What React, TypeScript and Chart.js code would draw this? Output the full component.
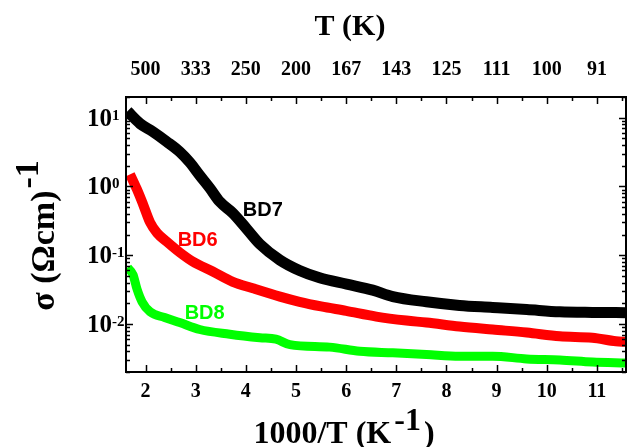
import React, { useEffect, useRef } from "react";
import { Chart, registerables } from "chart.js";

Chart.register(...registerables);

// ---- data (1000/T in K^-1, conductivity in (Ohm cm)^-1) ----
const invT_BD7 = [1.64, 1.89, 2.14, 2.42, 2.68, 2.88, 3.08, 3.28, 3.48, 3.74, 4.02, 4.28, 4.68, 5.07, 5.47, 6.01, 6.53, 6.93, 7.6, 8.26, 8.92, 9.6, 10.26, 10.91, 11.58];
const sigma_BD7 = [12.4, 8.2, 6.3, 4.5, 3.2, 2.25, 1.45, 0.95, 0.6, 0.41, 0.24, 0.145, 0.085, 0.06, 0.047, 0.038, 0.031, 0.025, 0.021, 0.0186, 0.0174, 0.0162, 0.015, 0.0147, 0.0146];

const invT_BD6 = [1.69, 1.83, 1.95, 2.09, 2.23, 2.42, 2.68, 2.94, 3.34, 3.74, 4.14, 4.68, 5.07, 5.5, 6.0, 6.6, 7.2, 7.6, 8.26, 8.92, 9.6, 10.26, 10.91, 11.38, 11.58];
const sigma_BD6 = [1.5, 0.9, 0.55, 0.3, 0.21, 0.158, 0.11, 0.081, 0.058, 0.041, 0.033, 0.025, 0.021, 0.018, 0.0155, 0.0128, 0.0112, 0.0105, 0.0092, 0.0083, 0.0075, 0.0066, 0.0063, 0.0056, 0.0055];

const invT_BD8 = [1.64, 1.75, 1.83, 1.93, 2.09, 2.38, 2.68, 3.08, 3.68, 4.28, 4.6, 4.88, 5.67, 6.27, 6.93, 7.6, 8.26, 8.92, 9.6, 10.26, 10.91, 11.58];
const sigma_BD8 = [0.066, 0.052, 0.032, 0.021, 0.015, 0.0124, 0.0105, 0.0083, 0.0071, 0.0063, 0.006, 0.005, 0.0046, 0.004, 0.0038, 0.0036, 0.0034, 0.0034, 0.0031, 0.003, 0.0028, 0.0027];

// ---- ticks ----
const xTickValues = [2, 3, 4, 5, 6, 7, 8, 9, 10, 11];
const xTickLabels = ["2", "3", "4", "5", "6", "7", "8", "9", "10", "11"];
const topTickLabels = ["500", "333", "250", "200", "167", "143", "125", "111", "100", "91"];
const yTickExponents = [1, 0, -1, -2];

// ---- curve labels ----
const curveNames = ["BD7", "BD6", "BD8"];
const curveColors = ["#000000", "#ff0000", "#00ff00"];
const curveLabelX = [3.94, 2.64, 2.78];
const curveLabelY = [0.366, 0.134, 0.012];

const SERIF = '"Liberation Serif", "Times New Roman", serif';
const SANS = '"Liberation Sans", Arial, sans-serif';

type Part = { t: string; size: number; dy: number; gap?: number };

function drawParts(ctx: CanvasRenderingContext2D, parts: Part[], cx: number, y: number) {
  let total = 0;
  const widths = parts.map((p) => {
    ctx.font = `bold ${p.size}px ${SERIF}`;
    const w = ctx.measureText(p.t).width + (p.gap || 0);
    total += w;
    return w;
  });
  let x = cx - total / 2;
  ctx.textAlign = "left";
  ctx.textBaseline = "alphabetic";
  parts.forEach((p, i) => {
    ctx.font = `bold ${p.size}px ${SERIF}`;
    ctx.fillText(p.t, x + (p.gap || 0) / 2, y + p.dy);
    x += widths[i];
  });
}

const framePlugin = {
  id: "frame",
  afterDraw(chart: any) {
    const ctx: CanvasRenderingContext2D = chart.ctx;
    const { left, right, top, bottom } = chart.chartArea;
    const xs = chart.scales.x;
    const ys = chart.scales.y;
    ctx.save();
    ctx.strokeStyle = "#000";
    ctx.fillStyle = "#000";

    // x ticks (inward, top and bottom)
    ctx.lineWidth = 1.5;
    ctx.beginPath();
    for (let k = Math.ceil(xs.min * 2); k <= Math.floor(xs.max * 2); k++) {
      const v = k / 2;
      const px = Math.round(xs.getPixelForValue(v)) + 0.5;
      const len = k % 2 === 0 ? 7 : 4;
      ctx.moveTo(px, bottom);
      ctx.lineTo(px, bottom - len);
      ctx.moveTo(px, top);
      ctx.lineTo(px, top + len);
    }
    // y ticks (log, inward, left and right)
    const nMin = Math.floor(Math.log10(ys.min));
    const nMax = Math.ceil(Math.log10(ys.max));
    for (let n = nMin; n <= nMax; n++) {
      for (let d = 1; d <= 9; d++) {
        const v = d * Math.pow(10, n);
        if (v < ys.min * 0.999 || v > ys.max * 1.001) continue;
        const py = Math.round(ys.getPixelForValue(v)) + 0.5;
        const len = d === 1 ? 7 : 4;
        ctx.moveTo(left, py);
        ctx.lineTo(left + len, py);
        ctx.moveTo(right, py);
        ctx.lineTo(right - len, py);
      }
    }
    ctx.stroke();

    // frame
    ctx.lineWidth = 2;
    ctx.strokeRect(left, top, right - left, bottom - top);

    // bottom and top tick labels
    ctx.textAlign = "center";
    ctx.textBaseline = "alphabetic";
    ctx.font = `bold 20px ${SERIF}`;
    xTickValues.forEach((v, i) => {
      const px = xs.getPixelForValue(v);
      ctx.fillText(xTickLabels[i], px, bottom + 25);
      ctx.fillText(topTickLabels[i], px, top - 22);
    });

    // y tick labels 10^n
    yTickExponents.forEach((n) => {
      const py = ys.getPixelForValue(Math.pow(10, n));
      ctx.textAlign = "left";
      ctx.font = `bold 25px ${SERIF}`;
      const x0 = left - 39;
      ctx.fillText("10", x0, py + 8);
      const w = ctx.measureText("10").width;
      ctx.font = `bold 15px ${SERIF}`;
      ctx.fillText(String(n), x0 + w, py + 2);
    });

    // axis titles
    const cx = (left + right) / 2;
    drawParts(ctx, [{ t: "T (K)", size: 30, dy: 0 }], cx - 26, 35);
    drawParts(
      ctx,
      [
        { t: "1000/T (K", size: 32, dy: 0 },
        { t: "-1", size: 32, dy: -13, gap: 6 },
        { t: ")", size: 32, dy: 0 },
      ],
      cx - 32,
      443
    );
    ctx.save();
    ctx.translate(54, (top + bottom) / 2);
    ctx.rotate(-Math.PI / 2);
    drawParts(
      ctx,
      [
        { t: "\u03c3 (\u03a9cm)", size: 34, dy: 0 },
        { t: "-1", size: 34, dy: -16, gap: 4 },
      ],
      0,
      0
    );
    ctx.restore();

    // curve labels
    ctx.font = `bold 20px ${SANS}`;
    ctx.textAlign = "left";
    curveNames.forEach((name, i) => {
      ctx.fillStyle = curveColors[i];
      ctx.fillText(name, xs.getPixelForValue(curveLabelX[i]), ys.getPixelForValue(curveLabelY[i]));
    });
    ctx.restore();
  },
};

function series(xs: number[], ys: number[]) {
  return xs.map((x, i) => ({ x, y: ys[i] }));
}

export default function App() {
  const canvasRef = useRef<HTMLCanvasElement | null>(null);

  useEffect(() => {
    if (!canvasRef.current) return;
    const mk = (label: string, data: any, color: string, width: number) => ({
      label,
      data,
      borderColor: color,
      backgroundColor: color,
      borderWidth: width,
      pointRadius: 0,
      cubicInterpolationMode: "monotone" as const,
      borderJoinStyle: "round" as const,
      borderCapStyle: "butt" as const,
    });
    const chart = new Chart(canvasRef.current, {
      type: "line",
      data: {
        datasets: [
          mk("BD8", series(invT_BD8, sigma_BD8), "#00ff00", 9),
          mk("BD6", series(invT_BD6, sigma_BD6), "#ff0000", 10),
          mk("BD7", series(invT_BD7, sigma_BD7), "#000000", 11),
        ],
      },
      options: {
        responsive: false,
        animation: false,
        devicePixelRatio: 1,
        layout: { padding: { left: 126, top: 97, right: 1, bottom: 75 } },
        plugins: { legend: { display: false }, tooltip: { enabled: false } },
        scales: {
          x: { type: "linear", min: 1.61, max: 11.58, display: false },
          y: { type: "logarithmic", min: 0.002, max: 20, display: false },
        },
      },
      plugins: [framePlugin],
    });
    return () => chart.destroy();
  }, []);

  return (
    <div style={{ position: "absolute", left: 0, top: 0, width: 627, height: 447, background: "#fff" }}>
      <canvas ref={canvasRef} width={627} height={447} style={{ display: "block" }} />
    </div>
  );
}
